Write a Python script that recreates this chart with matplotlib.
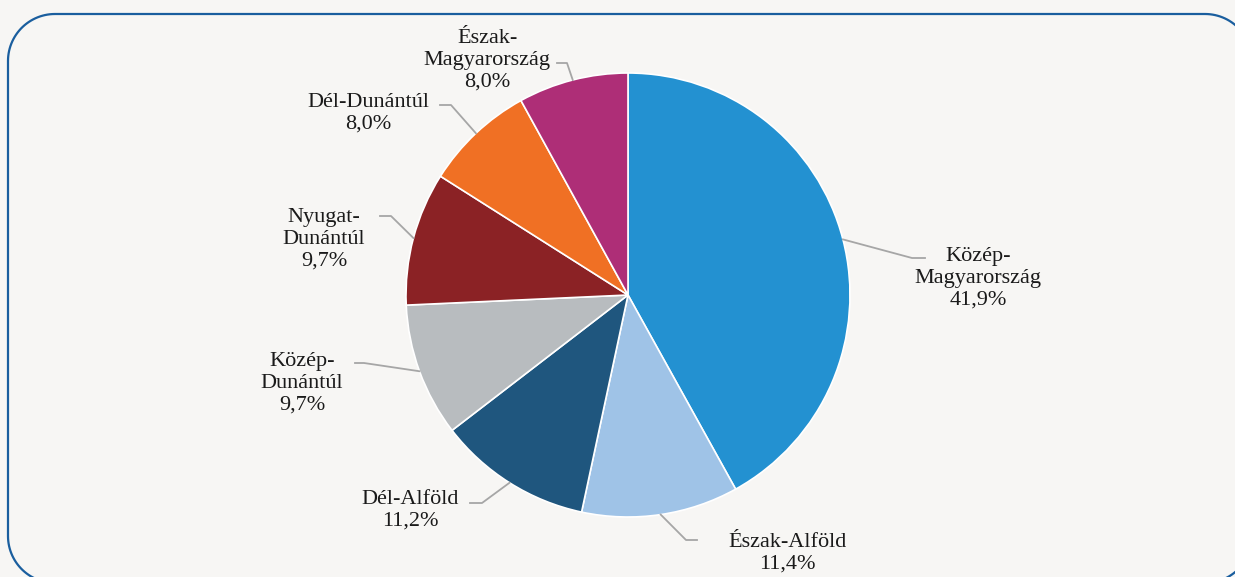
import numpy as np
import matplotlib.pyplot as plt
from matplotlib.lines import Line2D
from matplotlib.transforms import IdentityTransform

# regions and their share (%)
regions = ["Közép-\nMagyarország", "Észak-Alföld", "Dél-Alföld", "Közép-\nDunántúl",
           "Nyugat-\nDunántúl", "Dél-Dunántúl", "Észak-\nMagyarország"]
shares = [41.9, 11.4, 11.2, 9.7, 9.7, 8.0, 8.0]
share_labels = ["41,9%", "11,4%", "11,2%", "9,7%", "9,7%", "8,0%", "8,0%"]
colors = ["#2391d1", "#9fc3e7", "#1f567e", "#b8bcbf", "#8b2225", "#f07024", "#ae2e77"]

# label layout, image pixels: text centre, elbow of leader, end of leader
text_pos = [(978, 278), (787, 553), (410, 510), (302, 383), (324, 239), (368, 113), (487, 60)]
elbow_pos = [(912, 258), (686, 540), (482, 503), (364, 363), (391, 216), (451, 105), (567, 63)]
end_pos = [(925, 258), (697, 540), (470, 503), (355, 363), (380, 216), (440, 105), (557, 63)]

W, H = 1235, 577
cx, cy, R = 628, 295, 222  # pie centre and radius in pixels


def to_units(p):
    return ((p[0] - cx) / R, (cy - p[1]) / R)


bg = "#f7f6f4"
fig = plt.figure(figsize=(W / 100, H / 100), dpi=100, facecolor=bg)
ax = fig.add_axes([0, 0, 1, 1])
ax.set_facecolor(bg)

wedges, _ = ax.pie(shares, colors=colors, startangle=90, counterclock=False,
                   radius=1, center=(0, 0),
                   wedgeprops=dict(edgecolor="white", linewidth=1.2))

ax.set_xlim(-cx / R, (W - cx) / R)
ax.set_ylim(-(H - cy) / R, cy / R)
ax.set_aspect("equal")
ax.axis("off")

# rounded frame as a polyline in pixels (it runs off the right and bottom edge)
left, right, top, bottom, rr = 8, 1252, H - 14, H - 583, 47
px, py = [], []
for (ccx, ccy, a0) in [(right - rr, top - rr, 0), (left + rr, top - rr, 90),
                       (left + rr, bottom + rr, 180), (right - rr, bottom + rr, 270)]:
    a = np.deg2rad(np.linspace(a0, a0 + 90, 30))
    px.extend(ccx + rr * np.cos(a))
    py.extend(ccy + rr * np.sin(a))
px.append(px[0])
py.append(py[0])
fig.lines.append(Line2D(px, py, color="#1a5e9e", linewidth=1.6,
                        transform=IdentityTransform(), figure=fig))

font = dict(family=["Liberation Serif", "DejaVu Serif"], size=16, color="#1a1a1a")
for w, name, lab, tp, ep, enp in zip(wedges, regions, share_labels, text_pos, elbow_pos, end_pos):
    ang = np.deg2rad((w.theta1 + w.theta2) / 2)
    start = (np.cos(ang), np.sin(ang))
    e = to_units(ep)
    en = to_units(enp)
    ax.plot([start[0], e[0], en[0]], [start[1], e[1], en[1]], color="#a6a6a6", lw=1.3)
    t = to_units(tp)
    ax.text(t[0], t[1], name + "\n" + lab, ha="center", va="center",
            linespacing=1.2, **font)

fig.savefig("out.png", dpi=100, facecolor=bg)
